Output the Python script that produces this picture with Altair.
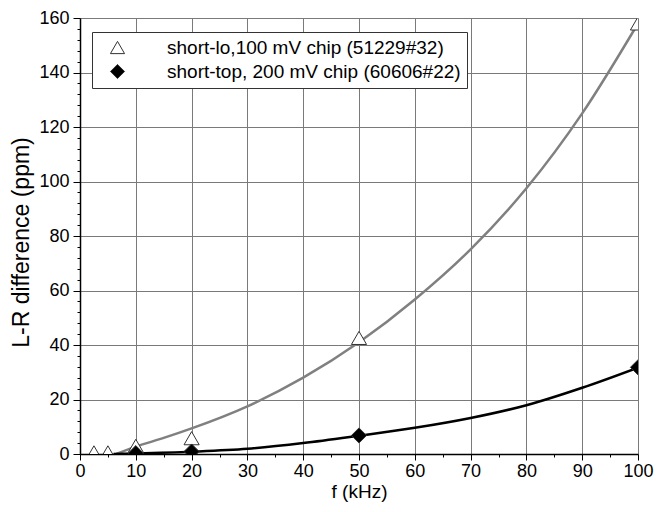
import altair as alt
import pandas as pd

series_names = ["short-lo,100 mV chip (51229#32)", "short-top, 200 mV chip (60606#22)"]

# measured points
lo_f = [2.5, 5, 10, 20, 50, 100]
lo_val = [0.6, 0.6, 3.0, 5.8, 42.6, 158.0]
top_f = [10, 20, 50, 100]
top_val = [0.3, 0.9, 6.8, 31.8]

# fitted curves
lo_curve_f = [6.5, 10, 15, 20, 30, 40, 50, 60, 70, 80, 90, 100]
lo_curve_val = [0, 2.7, 5.9, 9.4, 17.5, 28.0, 41.0, 56.7, 75.1, 97.5, 125.0, 158.0]
top_curve_f = [6, 10, 20, 30, 40, 50, 60, 70, 80, 90, 100]
top_curve_val = [0, 0.2, 0.85, 1.9, 4.0, 6.7, 9.6, 13.2, 17.9, 24.3, 31.7]

x_ticks = list(range(0, 101, 5))
y_ticks = list(range(0, 161, 4))

pts = pd.DataFrame({
    "f": lo_f + top_f,
    "v": lo_val + top_val,
    "series": [series_names[0]] * len(lo_f) + [series_names[1]] * len(top_f),
})
curves = pd.DataFrame({
    "f": lo_curve_f + top_curve_f,
    "v": lo_curve_val + top_curve_val,
    "line": ["lo"] * len(lo_curve_f) + ["top"] * len(top_curve_f),
})

FONT = "Liberation Sans"

x_axis = alt.Axis(
    values=x_ticks,
    labelExpr="datum.value % 10 === 0 ? datum.label : ''",
    tickSize={"condition": {"test": "datum.value % 10 === 0", "value": 6}, "value": 3},
    gridOpacity={"condition": {"test": "datum.value % 10 === 0", "value": 1}, "value": 0},
    grid=True, gridColor="#7a7a7a", gridWidth=1,
    domainColor="black", domainWidth=1.5, tickColor="black", labelColor="black",
    labelFont=FONT, labelFontSize=18, labelPadding=2, labelFlush=False, labelOverlap=False,
    title="f (kHz)", titleFont=FONT, titleFontSize=19, titleFontWeight="normal",
    titleColor="black", titlePadding=2,
)
y_axis = alt.Axis(
    values=y_ticks,
    labelExpr="datum.value % 20 === 0 ? datum.label : ''",
    tickSize={"condition": {"test": "datum.value % 20 === 0", "value": 7}, "value": 3},
    gridOpacity={"condition": {"test": "datum.value % 20 === 0", "value": 1}, "value": 0},
    grid=True, gridColor="#7a7a7a", gridWidth=1,
    domainColor="black", domainWidth=1.5, tickColor="black", labelColor="black",
    labelFont=FONT, labelFontSize=18, labelPadding=4, labelFlush=False, labelOverlap=False,
    title="L-R difference (ppm)", titleFont=FONT, titleFontSize=23, titleFontWeight="normal",
    titleColor="black", titlePadding=5, titleY=224,
)

xs = alt.Scale(domain=[0, 100], nice=False, zero=False)
ys = alt.Scale(domain=[0, 160], nice=False, zero=False)

legend = alt.Legend(
    title=None, orient="none", legendX=12, legendY=14,
    fillColor="white", strokeColor="#333333",
    padding=6, rowPadding=4, symbolOffset=10, labelOffset=40, labelLimit=500,
    labelFont=FONT, labelFontSize=19, labelColor="black", symbolSize=200,
    symbolStrokeWidth=1, symbolStrokeColor="#333333",
)

lines = alt.Chart(curves).mark_line(strokeWidth=2.5, interpolate="monotone", clip=True).encode(
    x=alt.X("f:Q", scale=xs, axis=x_axis),
    y=alt.Y("v:Q", scale=ys, axis=y_axis),
    stroke=alt.Stroke("line:N", scale=alt.Scale(domain=["lo", "top"], range=["#808080", "#000000"]), legend=None),
)

points = alt.Chart(pts).mark_point(filled=True, size=230, stroke="#333333", strokeWidth=1, opacity=1, clip=True).encode(
    x=alt.X("f:Q", scale=xs, axis=x_axis),
    y=alt.Y("v:Q", scale=ys, axis=y_axis),
    shape=alt.Shape("series:N", scale=alt.Scale(domain=series_names, range=["triangle-up", "diamond"]), legend=legend),
    color=alt.Color("series:N", scale=alt.Scale(domain=series_names, range=["#ffffff", "#000000"]), legend=legend),
)

chart = alt.layer(lines, points).resolve_scale(stroke="independent").properties(
    width=558, height=436,
    autosize=alt.AutoSizeParams(type="none"),
    padding={"left": 72, "top": 10, "right": 16, "bottom": 50},
).configure_view(stroke="black", strokeWidth=1.5).configure_legend(
    strokeWidth=1
).configure(font=FONT, background="white")

chart.save("out.html", embed_options={"renderer": "svg", "actions": False})
